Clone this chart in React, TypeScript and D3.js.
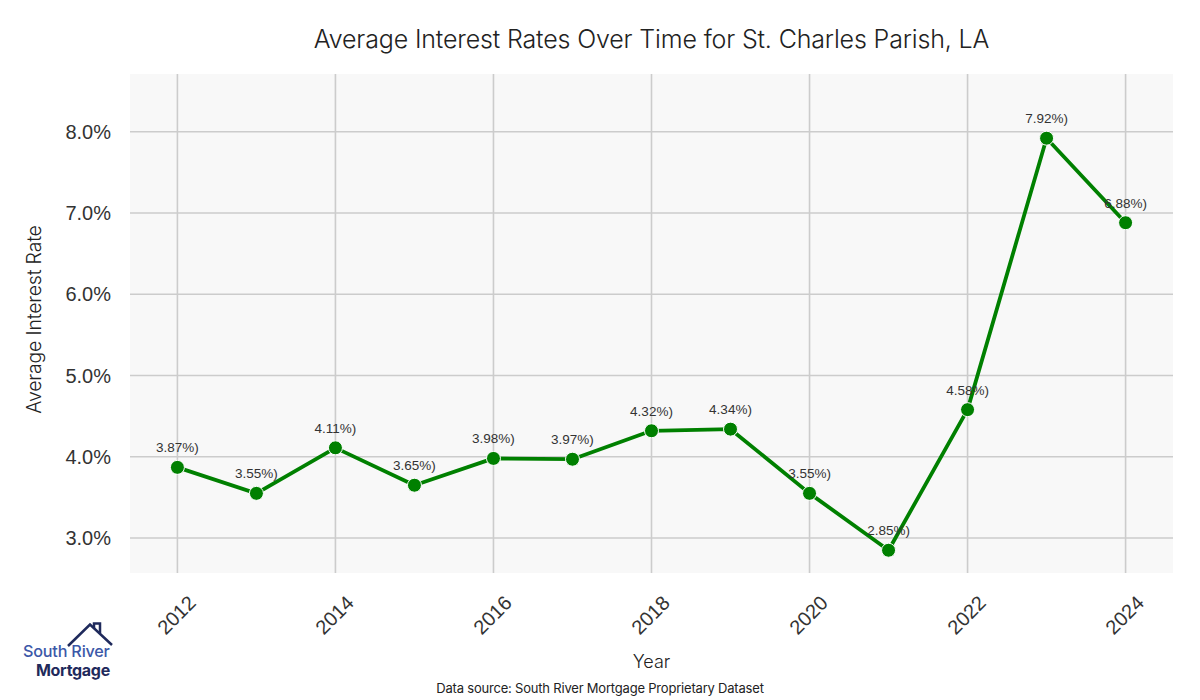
import React from "react";
import * as d3 from "d3";

const years = [2012, 2013, 2014, 2015, 2016, 2017, 2018, 2019, 2020, 2021, 2022, 2023, 2024];
const rates = [3.87, 3.55, 4.11, 3.65, 3.98, 3.97, 4.32, 4.34, 3.55, 2.85, 4.58, 7.92, 6.88];
const xTicks = [2012, 2014, 2016, 2018, 2020, 2022, 2024];
const yTicks = [3, 4, 5, 6, 7, 8];

const W = 1200;
const H = 700;
const L = 130, R = 1173, T = 74, B = 573;

export default function App() {
  const x = d3.scaleLinear().domain([2011.4, 2024.6]).range([L, R]);
  const y = d3.scaleLinear().domain([2.57, 8.71]).range([B, T]);
  const line = d3.line<number>().x((_, i) => x(years[i])).y((d) => y(d));
  const tickFont = "'Liberation Sans', Arial, sans-serif";
  const uiFont = "Inter, 'Noto Sans', sans-serif";
  return (
    <svg width={W} height={H} style={{ position: "absolute", left: 0, top: 0, background: "#fff" }}>
      <rect x={L} y={T} width={R - L} height={B - T} fill="#f8f8f8" />
      {xTicks.map((t) => (
        <line key={"gx" + t} x1={x(t)} x2={x(t)} y1={T} y2={B} stroke="#cccccc" strokeWidth={1.6} />
      ))}
      {yTicks.map((t) => (
        <line key={"gy" + t} x1={L} x2={R} y1={y(t)} y2={y(t)} stroke="#cccccc" strokeWidth={1.6} />
      ))}
      <path d={line(rates) || ""} fill="none" stroke="#008000" strokeWidth={3.8} strokeLinejoin="round" />
      {rates.map((r, i) => (
        <circle key={"p" + i} cx={x(years[i])} cy={y(r)} r={7} fill="#008000" stroke="#ffffff" strokeWidth={1} />
      ))}
      {rates.map((r, i) => (
        <text key={"l" + i} x={x(years[i])} y={y(r) - 15} textAnchor="middle" fontFamily={tickFont} fontSize={13.5} fill="#333">
          {r.toFixed(2) + "%)"}
        </text>
      ))}
      {yTicks.map((t) => (
        <text key={"ty" + t} x={111} y={y(t)} textAnchor="end" dominantBaseline="central" fontFamily={tickFont} fontSize={20} fill="#333">
          {t.toFixed(1) + "%"}
        </text>
      ))}
      {xTicks.map((t) => (
        <text key={"tx" + t} x={0} y={0} transform={`translate(${x(t) - 1},${615}) rotate(-45)`} textAnchor="middle" dominantBaseline="central" fontFamily={tickFont} fontSize={20} fill="#333">
          {t}
        </text>
      ))}
      <text x={(L + R) / 2} y={48} textAnchor="middle" fontFamily={uiFont} fontSize={25} fontWeight={300} fill="#222" letterSpacing={-0.15}>
        Average Interest Rates Over Time for St. Charles Parish, LA
      </text>
      <text x={0} y={0} transform={`translate(41,${(T + B) / 2 - 4}) rotate(-90)`} textAnchor="middle" fontFamily={uiFont} fontSize={19.5} fontWeight={300} fill="#222" letterSpacing={-0.2}>
        Average Interest Rate
      </text>
      <text x={(L + R) / 2} y={668} textAnchor="middle" fontFamily={uiFont} fontSize={18} fontWeight={300} fill="#222">
        Year
      </text>
      <text x={600} y={693} textAnchor="middle" fontFamily={uiFont} fontSize={13} fill="#222" letterSpacing={-0.2}>
        Data source: South River Mortgage Proprietary Dataset
      </text>
      <g>
        <path d="M68,646 L90,624.5 L112,645" fill="none" stroke="#1f2a5c" strokeWidth={2.5} />
        <path d="M94,628 L94,623.5 L100,623.5 L100,633" fill="none" stroke="#1f2a5c" strokeWidth={2.5} />
        <text x={23} y={657} fontFamily={uiFont} fontSize={16.2} fontWeight={500} fill="#3c58a8" letterSpacing={-0.2}>
          South River
        </text>
        <text x={36} y={676} fontFamily={uiFont} fontSize={16} fontWeight={700} fill="#1f2a5c" letterSpacing={-0.3}>
          Mortgage
        </text>
      </g>
    </svg>
  );
}
